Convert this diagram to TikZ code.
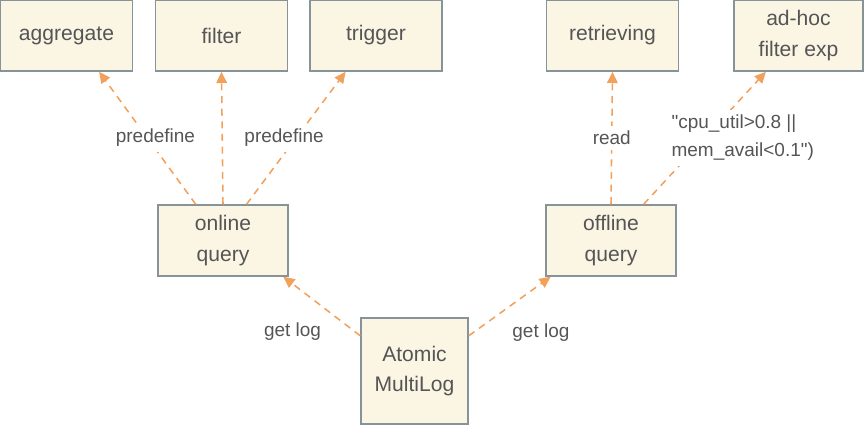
\documentclass[tikz,border=0pt]{standalone}
\usepackage{fontspec}
\setmainfont{Liberation Sans}[Ligatures=TeXOff]
\usepackage{xcolor}
\usetikzlibrary{positioning,arrows.meta}

\definecolor{boxfill}{HTML}{FBF5E4}
\definecolor{boxline}{HTML}{86949A}
\definecolor{arrcol}{HTML}{F2A15C}
\definecolor{txt}{HTML}{555555}

\begin{document}
\begin{tikzpicture}[
  x = 0.025cm, y = -0.025cm,
  box/.style = {draw=boxline, fill=boxfill, align=center, minimum height=1.78cm,
                minimum width=3.3cm, line width=0.9pt, text=txt,
                font=\fontsize{15}{21.5}\selectfont},
  arr/.style = {-{Triangle[length=8pt, width=7.5pt]}, draw=arrcol, line width=1.1pt,
                dash pattern=on 5pt off 4pt},
  lbl/.style = {font=\fontsize{13.5}{20}\selectfont, text=txt, fill=white, midway}
]
  \useasboundingbox (0,0) rectangle (864,424);

  % top row
  \node[box] (aggregate)  at (66.5,35.5)  {aggregate};
  \node[box] (filter)     at (221.5,35.5) {filter};
  \node[box] (trigger)    at (376,35.5)   {trigger};
  \node[box] (retrieving) at (612.5,35.5) {retrieving};
  \node[box, minimum width=3.22cm] (adhoc) at (798.5,35.5) {ad-hoc\\filter exp};

  % queries
  \node[box, minimum width=3.25cm] (online)  at (223,240.5) {online\\query};
  \node[box, minimum width=3.25cm] (offline) at (611,240.5) {offline\\query};

  % log
  \node[box, minimum width=2.68cm, minimum height=2.65cm] (multilog) at (414.5,371) {Atomic\\MultiLog};

  \draw[arr] (online.127) -- node[lbl, xshift=0.2cm]{predefine} (aggregate.312);
  \draw[arr] (online.north) -- (filter.south);
  \draw[arr] (online.57)  -- node[lbl, xshift=-0.3cm]{predefine} (trigger.230);

  \draw[arr] (offline.north) -- node[lbl]{read} (retrieving.south);
  \draw[arr] (offline.48) -- node[lbl, align=left, xshift=0.95cm]
    {"cpu\_util>0.8 ||\\mem\_avail<0.1")} (adhoc.228);

  \draw[arr] (multilog.147) -- node[lbl, xshift=-0.73cm, yshift=-0.63cm]{get log} (online.329);
  \draw[arr] (multilog.33)  -- node[lbl, xshift=0.78cm, yshift=-0.65cm]{get log} (offline.211);
\end{tikzpicture}
\end{document}
